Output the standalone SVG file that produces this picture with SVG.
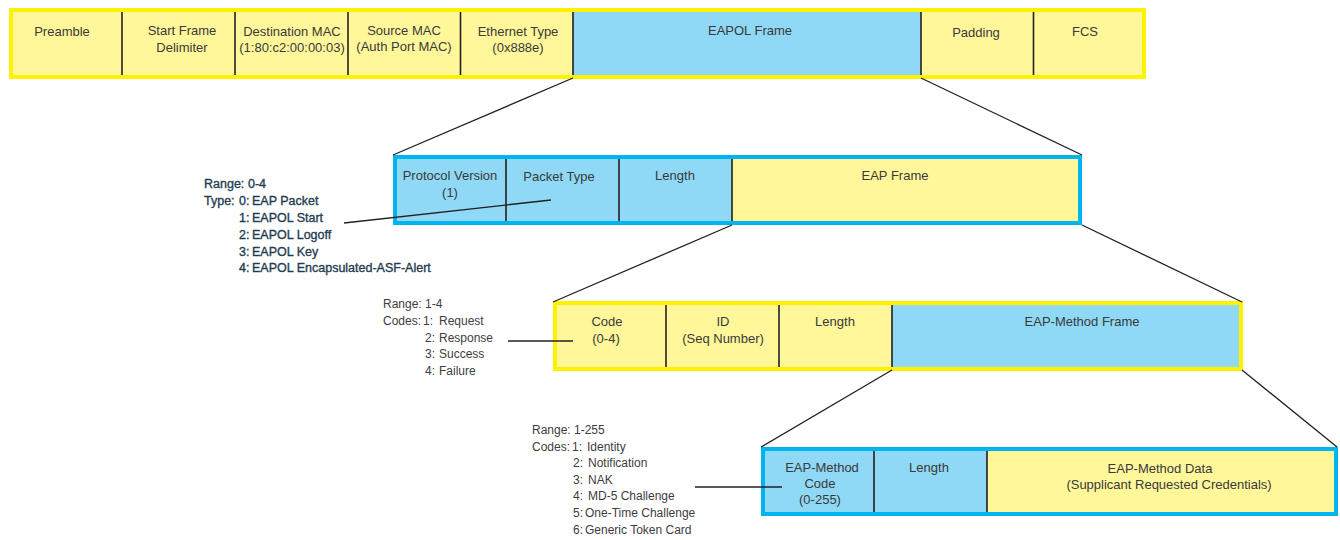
<svg xmlns="http://www.w3.org/2000/svg" width="1340" height="540" viewBox="0 0 1340 540">
<style>
  .y{fill:#fff799}
  .b{fill:#8fd8f6}
  .by{fill:none;stroke:#fff200;stroke-width:4}
  .bb{fill:none;stroke:#00b5ef;stroke-width:4}
  .dv{stroke:#231f20;stroke-width:1.6}
  .lbl{font-family:"Liberation Sans",Arial,sans-serif;font-size:13px;fill:#3a3a3a;text-anchor:middle}
  .ann1{font-family:"Liberation Sans",Arial,sans-serif;font-size:12.5px;fill:#1f3d50;stroke:#1f3d50;stroke-width:0.35}
  .ann{font-family:"Liberation Sans",Arial,sans-serif;font-size:12px;fill:#3d3d3d}
  .cn{stroke:#231f20;stroke-width:1.3;fill:none}
</style>
<rect width="1340" height="540" fill="#ffffff"/>

<!-- Row 1: Ethernet frame -->
<g id="row1">
  <g id="preamble"><rect class="y" x="11" y="11" width="111" height="66"/><text class="lbl" x="62" y="36">Preamble</text></g>
  <g id="sfd"><rect class="y" x="122" y="11" width="113" height="66"/><text class="lbl" x="182" y="35">Start Frame</text><text class="lbl" x="182" y="52">Delimiter</text></g>
  <g id="dstmac"><rect class="y" x="235" y="11" width="113" height="66"/><text class="lbl" x="292" y="36">Destination MAC</text><text class="lbl" x="292" y="52">(1:80:c2:00:00:03)</text></g>
  <g id="srcmac"><rect class="y" x="348" y="11" width="112.5" height="66"/><text class="lbl" x="404" y="35">Source MAC</text><text class="lbl" x="404" y="51">(Auth Port MAC)</text></g>
  <g id="ethtype"><rect class="y" x="460.5" y="11" width="112.5" height="66"/><text class="lbl" x="518" y="36">Ethernet Type</text><text class="lbl" x="518" y="52">(0x888e)</text></g>
  <g id="eapol"><rect class="b" x="573" y="11" width="348" height="66"/><text class="lbl" x="750" y="35">EAPOL Frame</text></g>
  <g id="padding"><rect class="y" x="921" y="11" width="112.5" height="66"/><text class="lbl" x="976" y="37">Padding</text></g>
  <g id="fcs"><rect class="y" x="1033.5" y="11" width="110.5" height="66"/><text class="lbl" x="1085" y="36">FCS</text></g>
  <g class="dv">
    <line x1="122" y1="12" x2="122" y2="76"/><line x1="235" y1="12" x2="235" y2="76"/>
    <line x1="348" y1="12" x2="348" y2="76"/><line x1="460.5" y1="12" x2="460.5" y2="76"/>
    <line x1="573" y1="12" x2="573" y2="76"/><line x1="921" y1="12" x2="921" y2="76"/>
    <line x1="1033.5" y1="12" x2="1033.5" y2="76"/>
  </g>
  <rect class="by" x="11" y="10" width="1133" height="67"/>
</g>

<!-- Row 2: EAPOL frame -->
<g id="row2">
  <g id="protover"><rect class="b" x="395" y="157" width="111" height="66"/><text class="lbl" x="450" y="180">Protocol Version</text><text class="lbl" x="450" y="197">(1)</text></g>
  <g id="pkttype"><rect class="b" x="506" y="157" width="113" height="66"/><text class="lbl" x="559" y="181">Packet Type</text></g>
  <g id="len2"><rect class="b" x="619" y="157" width="113" height="66"/><text class="lbl" x="675" y="180">Length</text></g>
  <g id="eapframe"><rect class="y" x="732" y="157" width="348" height="66"/><text class="lbl" x="895" y="180">EAP Frame</text></g>
  <g class="dv">
    <line x1="506" y1="158" x2="506" y2="222"/><line x1="619" y1="158" x2="619" y2="222"/>
    <line x1="732" y1="158" x2="732" y2="222"/>
  </g>
  <rect class="bb" x="395" y="157" width="685" height="66"/>
</g>

<!-- Row 3: EAP frame -->
<g id="row3">
  <g id="code"><rect class="y" x="555" y="303" width="111" height="66"/><text class="lbl" x="607" y="326">Code</text><text class="lbl" x="606" y="343">(0-4)</text></g>
  <g id="id"><rect class="y" x="666" y="303" width="113" height="66"/><text class="lbl" x="723" y="326">ID</text><text class="lbl" x="723" y="343">(Seq Number)</text></g>
  <g id="len3"><rect class="y" x="779" y="303" width="113" height="66"/><text class="lbl" x="835" y="326">Length</text></g>
  <g id="methodframe"><rect class="b" x="892" y="303" width="349" height="66"/><text class="lbl" x="1082" y="326">EAP-Method Frame</text></g>
  <g class="dv">
    <line x1="666" y1="304" x2="666" y2="368"/><line x1="779" y1="304" x2="779" y2="368"/>
    <line x1="892" y1="304" x2="892" y2="368"/>
  </g>
  <rect class="by" x="555" y="303" width="686" height="66"/>
</g>

<!-- Row 4: EAP-Method frame -->
<g id="row4">
  <g id="methodcode"><rect class="b" x="763" y="449" width="111" height="65"/><text class="lbl" x="822" y="472">EAP-Method</text><text class="lbl" x="820" y="488">Code</text><text class="lbl" x="820" y="504">(0-255)</text></g>
  <g id="len4"><rect class="b" x="874" y="449" width="113" height="65"/><text class="lbl" x="929" y="472">Length</text></g>
  <g id="methoddata"><rect class="y" x="987" y="449" width="349" height="65"/><text class="lbl" x="1160" y="473">EAP-Method Data</text><text class="lbl" x="1169" y="489">(Supplicant Requested Credentials)</text></g>
  <g class="dv">
    <line x1="874" y1="450" x2="874" y2="513"/><line x1="987" y1="450" x2="987" y2="513"/>
  </g>
  <rect class="bb" x="763" y="449" width="573" height="65"/>
</g>

<!-- Annotations -->
<g id="ann-packettype">
  <text class="ann1" x="204" y="188">Range:<tspan x="248">0-4</tspan></text>
  <text class="ann1" x="204" y="205">Type:<tspan x="239">0:</tspan><tspan x="252">EAP Packet</tspan></text>
  <text class="ann1" x="239" y="222">1:<tspan x="252">EAPOL Start</tspan></text>
  <text class="ann1" x="239" y="239">2:<tspan x="252">EAPOL Logoff</tspan></text>
  <text class="ann1" x="239" y="256">3:<tspan x="252">EAPOL Key</tspan></text>
  <text class="ann1" x="239" y="272">4:<tspan x="252">EAPOL Encapsulated-ASF-Alert</tspan></text>
</g>
<g id="ann-code">
  <text class="ann" x="383" y="308">Range: 1-4</text>
  <text class="ann" x="383" y="325">Codes:<tspan x="423">1:</tspan><tspan x="439">Request</tspan></text>
  <text class="ann" x="425" y="342">2:<tspan x="439">Response</tspan></text>
  <text class="ann" x="425" y="358">3:<tspan x="439">Success</tspan></text>
  <text class="ann" x="425" y="375">4:<tspan x="439">Failure</tspan></text>
</g>
<g id="ann-methodcode">
  <text class="ann" x="532" y="434">Range: 1-255</text>
  <text class="ann" x="532" y="451">Codes:<tspan x="572">1:</tspan><tspan x="587">Identity</tspan></text>
  <text class="ann" x="573" y="467">2:<tspan x="588">Notification</tspan></text>
  <text class="ann" x="573" y="484">3:<tspan x="588">NAK</tspan></text>
  <text class="ann" x="573" y="500">4:<tspan x="588">MD-5 Challenge</tspan></text>
  <text class="ann" x="573" y="517">5:<tspan x="585">One-Time Challenge</tspan></text>
  <text class="ann" x="573" y="534">6:<tspan x="585">Generic Token Card</tspan></text>
</g>

<!-- Connectors -->
<g id="connectors" class="cn">
  <line x1="573" y1="78" x2="393" y2="155"/>
  <line x1="921" y1="78" x2="1082" y2="155"/>
  <line x1="732" y1="225" x2="553" y2="302"/>
  <line x1="1082" y1="225" x2="1242" y2="302"/>
  <line x1="892" y1="370" x2="761" y2="447"/>
  <line x1="1242" y1="370" x2="1337" y2="447"/>
  <line x1="551" y1="200" x2="344" y2="223"/>
  <line x1="508" y1="341" x2="573" y2="341"/>
  <line x1="695" y1="487" x2="782" y2="487"/>
</g>
</svg>
